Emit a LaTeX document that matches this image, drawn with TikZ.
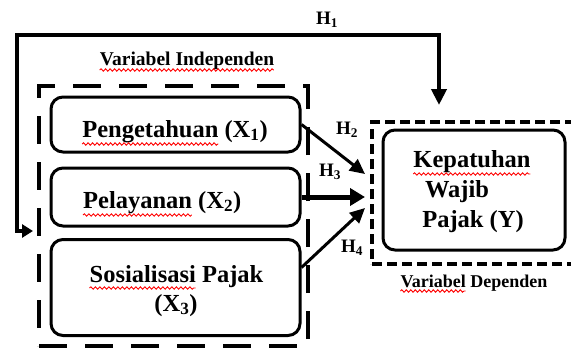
\documentclass[tikz,border=0pt]{standalone}
\usepackage{fontspec}
\setmainfont{Liberation Serif}
\usetikzlibrary{arrows.meta,decorations.pathmorphing}
\newlength\sqA\newlength\sqB\newlength\sqC\newlength\sqD\newlength\sqE\newlength\sqF
\newcommand\lblfont{\fontsize{24.5}{28}\selectfont\bfseries}
\newcommand\capfont{\fontsize{19.5}{22}\selectfont\bfseries}
\newcommand\depfont{\fontsize{18}{21}\selectfont\bfseries}
\newcommand\hfont{\fontsize{19}{22}\selectfont\bfseries}
\begin{document}
\settowidth\sqA{\lblfont Pengetahuan}%
\settowidth\sqB{\lblfont Pelayanan}%
\settowidth\sqC{\lblfont Sosialisasi}%
\settowidth\sqD{\lblfont Kepatuhan}%
\settowidth\sqE{\capfont Variabel Independen}%
\settowidth\sqF{\depfont Variabel}%
\begin{tikzpicture}[x=1pt,y=-1pt,
  box/.style={draw, line width=3pt, rounded corners=12pt, inner sep=0pt},
  grp/.style={draw, line width=4pt, dash pattern=on 28pt off 18pt, inner sep=0pt},
  grpb/.style={draw, line width=3.5pt, dash pattern=on 10pt off 5pt, inner sep=0pt},
  lbl/.style={font=\lblfont, inner sep=0pt, anchor=base},
  grpcap/.style={font=\capfont, inner sep=0pt, anchor=base},
  depcap/.style={font=\depfont, inner sep=0pt, anchor=base},
  hl/.style={font=\hfont, inner sep=0pt},
  arr/.style={line width=3pt, -{Triangle[length=15pt,width=14pt]}},
  arrb/.style={line width=5pt, -{Triangle[length=15pt,width=17pt]}},
  hone/.style={line width=4pt, {Triangle[length=11pt,width=13pt]}-{Triangle[length=16pt,width=15pt]}},
  sq/.style={draw=red, line width=0.9pt, decorate, decoration={snake, amplitude=1.2pt, segment length=4.5pt}}]
\useasboundingbox (0,0) rectangle (571,348);

% group boxes
\node[grp, minimum width=269pt, minimum height=260pt] (indep) at (173.5,216) {};
\node[grpb, minimum width=203pt, minimum height=142pt] (dep) at (473.5,193) {};

% variable boxes
\node[box, minimum width=249pt, minimum height=55pt] (x1) at (175.5,124.5) {};
\node[box, minimum width=249pt, minimum height=58pt] (x2) at (175.5,197) {};
\node[box, minimum width=249pt, minimum height=96pt] (x3) at (175.5,287.5) {};
\node[box, minimum width=182pt, minimum height=120pt] (y) at (474,190) {};

% texts
\node[lbl] (t1) at (175,137) {Pengetahuan (X\textsubscript{1})};
\node[lbl, anchor=base west] (t2) at (83,208) {Pelayanan (X\textsubscript{2})};
\node[lbl] (t3a) at (176.5,282) {Sosialisasi Pajak};
\node[lbl] (t3b) at (176,311) {(X\textsubscript{3})};
\node[lbl] (ty1) at (472,167) {Kepatuhan};
\node[lbl] (ty2) at (457,197) {Wajib};
\node[lbl] (ty3) at (473,227) {Pajak (Y)};
\node[grpcap] (ci) at (187,65) {Variabel Independen};
\node[depcap] (cd) at (474,287) {Variabel Dependen};

% spell-check squiggles
\path[sq] ([yshift=-7pt]t1.base west) -- ++(\sqA,0pt);
\path[sq] ([yshift=-7pt]t2.base west) -- ++(\sqB,0pt);
\path[sq] ([yshift=-6pt]t3a.base west) -- ++(\sqC,0pt);
\path[sq] ([yshift=-7pt]ty1.base west) -- ++(\sqD,0pt);
\path[sq] ([yshift=-5pt]ci.base west) -- ++(\sqE,0pt);
\path[sq] ([yshift=-4pt]cd.base west) -- ++(\sqF,0pt);

% hypothesis arrows
\coordinate (e2) at (365,174);
\coordinate (e3) at (365,197);
\coordinate (e4) at (365,208);
\draw[arr] (x1.east) -- (e2);
\draw[arrb] (x2.east) -- (e3);
\draw[arr] ([yshift=20pt]x3.east) -- (e4);

\coordinate (ha) at (33,231);
\coordinate (hb) at (439,105);
\draw[hone] (ha) -- ++(-16pt,0pt) |- (hb |- 0,35) -- (hb);

\node[hl] (h1) at (327,20) {H\textsubscript{1}};
\node[hl] (h2) at (347,130) {H\textsubscript{2}};
\node[hl] (h3) at (330,172) {H\textsubscript{3}};
\node[hl] (h4) at (352,248) {H\textsubscript{4}};
\end{tikzpicture}
\end{document}
